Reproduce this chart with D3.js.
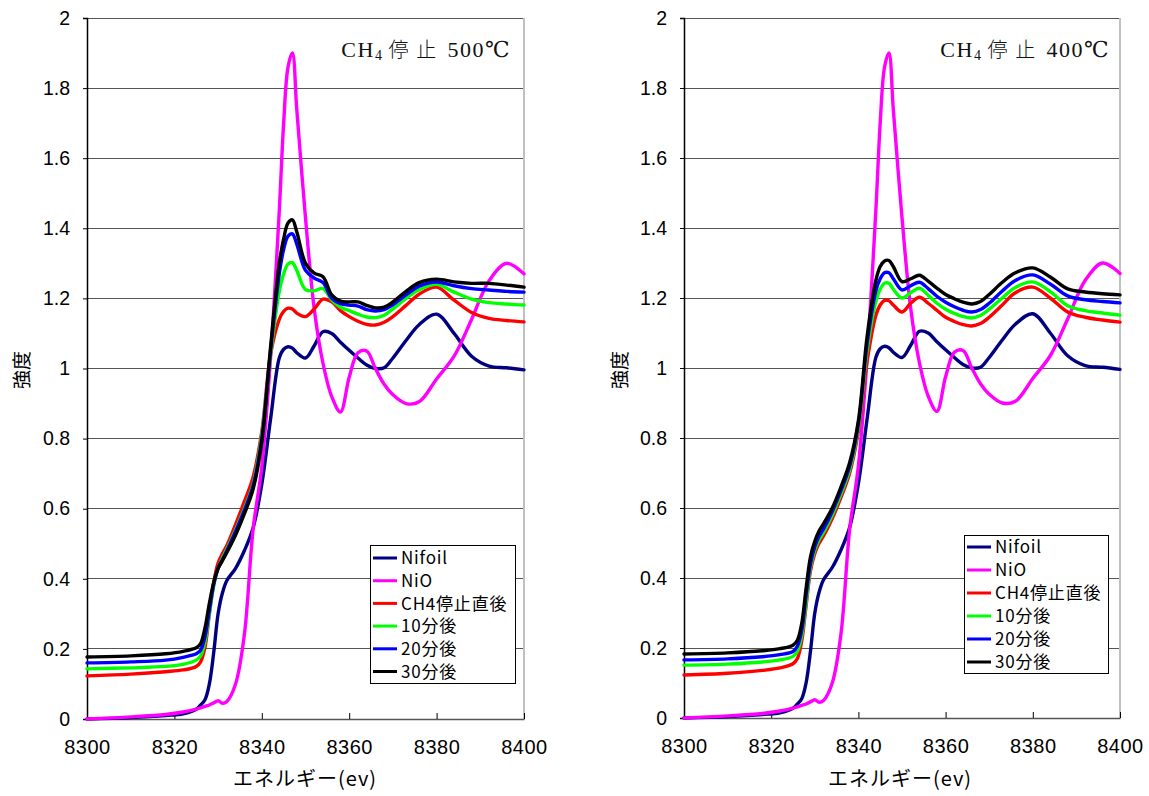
<!DOCTYPE html>
<html><head><meta charset="utf-8">
<script src="https://cdn.jsdelivr.net/npm/d3@7"></script>
<style>body{margin:0;background:#fff}svg{display:block}</style>
</head><body>
<svg id="c" width="1149" height="796"></svg>
<script>
// ---------- data ----------
const energies = [8300,8310,8318,8322,8325,8326,8327,8328,8329,8330,8331,8332,8334,8336,8338,8340,8342,8344,8345,8346,8347,8348,8350,8352,8354,8356,8358,8360,8362,8364,8366,8368,8370,8373,8376,8380,8384,8388,8392,8396,8400];

const nifoil = [0.000,0.004,0.010,0.015,0.028,0.040,0.055,0.10,0.19,0.30,0.36,0.395,0.43,0.48,0.545,0.67,0.855,1.03,1.055,1.062,1.058,1.045,1.03,1.065,1.105,1.10,1.075,1.052,1.03,1.01,1.0,1.002,1.03,1.08,1.125,1.155,1.10,1.035,1.007,1.002,0.996];
const nio    = [0.000,0.006,0.013,0.020,0.028,0.032,0.036,0.040,0.046,0.052,0.045,0.050,0.10,0.24,0.54,0.72,1.03,1.45,1.70,1.86,1.90,1.74,1.43,1.17,1.015,0.92,0.876,0.975,1.045,1.05,1.0,0.955,0.925,0.90,0.905,0.97,1.035,1.14,1.25,1.30,1.27];

// 500℃ panel
const red500   = [0.123,0.128,0.135,0.140,0.150,0.163,0.205,0.30,0.39,0.445,0.472,0.495,0.555,0.62,0.69,0.82,1.04,1.14,1.163,1.172,1.17,1.158,1.148,1.17,1.198,1.19,1.165,1.148,1.135,1.126,1.124,1.132,1.148,1.18,1.212,1.232,1.195,1.16,1.143,1.137,1.133];
const green500 = [0.143,0.146,0.150,0.156,0.168,0.18,0.22,0.30,0.38,0.43,0.46,0.485,0.54,0.60,0.67,0.81,1.04,1.22,1.27,1.298,1.302,1.28,1.225,1.222,1.228,1.195,1.175,1.165,1.155,1.147,1.145,1.152,1.17,1.20,1.225,1.240,1.218,1.198,1.188,1.184,1.181];
const blue500  = [0.160,0.163,0.168,0.176,0.186,0.196,0.235,0.31,0.385,0.43,0.455,0.48,0.535,0.595,0.665,0.80,1.05,1.27,1.34,1.378,1.384,1.355,1.28,1.258,1.245,1.20,1.185,1.181,1.178,1.168,1.164,1.168,1.182,1.21,1.235,1.247,1.236,1.228,1.224,1.22,1.218];
const black500 = [0.177,0.180,0.186,0.193,0.203,0.215,0.26,0.33,0.39,0.43,0.452,0.475,0.525,0.585,0.655,0.79,1.06,1.30,1.37,1.415,1.424,1.39,1.30,1.272,1.262,1.21,1.192,1.19,1.19,1.18,1.173,1.175,1.19,1.22,1.245,1.255,1.247,1.243,1.243,1.238,1.232];

// 400℃ panel
const red400   = [0.123,0.128,0.136,0.143,0.155,0.17,0.22,0.32,0.42,0.47,0.50,0.52,0.57,0.63,0.70,0.82,1.02,1.15,1.18,1.193,1.192,1.18,1.16,1.185,1.202,1.185,1.165,1.145,1.133,1.124,1.12,1.127,1.145,1.18,1.215,1.231,1.20,1.16,1.145,1.137,1.131];
const green400 = [0.151,0.154,0.16,0.166,0.176,0.19,0.235,0.33,0.43,0.48,0.51,0.53,0.58,0.64,0.71,0.83,1.05,1.19,1.225,1.242,1.242,1.225,1.20,1.215,1.228,1.208,1.185,1.168,1.156,1.147,1.143,1.15,1.168,1.20,1.23,1.246,1.218,1.178,1.164,1.157,1.151];
const blue400  = [0.166,0.169,0.175,0.181,0.19,0.205,0.25,0.35,0.44,0.49,0.52,0.54,0.59,0.65,0.72,0.84,1.07,1.22,1.255,1.272,1.272,1.255,1.223,1.235,1.245,1.227,1.205,1.188,1.175,1.165,1.16,1.167,1.185,1.22,1.25,1.266,1.24,1.206,1.195,1.19,1.186];
const black400 = [0.183,0.186,0.192,0.198,0.208,0.222,0.27,0.37,0.46,0.505,0.535,0.555,0.60,0.66,0.73,0.85,1.09,1.25,1.29,1.306,1.307,1.29,1.247,1.255,1.265,1.248,1.228,1.21,1.198,1.188,1.183,1.19,1.21,1.245,1.272,1.286,1.26,1.226,1.217,1.212,1.209];

const seriesNames = ["Nifoil","NiO","CH4停止直後","10分後","20分後","30分後"];
const seriesColors = ["#000080","#FF00FF","#FF0000","#00FF00","#0000FF","#000000"];
const xTicks = [8300,8320,8340,8360,8380,8400];
const xTickLabels = ["8300","8320","8340","8360","8380","8400"];
const yTicks = [0,0.2,0.4,0.6,0.8,1,1.2,1.4,1.6,1.8,2];
const yTickLabels = ["0","0.2","0.4","0.6","0.8","1","1.2","1.4","1.6","1.8","2"];
const titleTemps = ["500℃","400℃"];
const xAxisTitle = "エネルギー(ev)";
const yAxisTitle = "強度";

// ---------- layout ----------
const panels = [
  {l:87, r:524, t:18, b:719, series:[nifoil,nio,red500,green500,blue500,black500], temp:titleTemps[0],
   titleRight:511, legend:{x:370,y:545,w:145,h:138,row0:558,step:22.7,lx:373,tx:401}, yTitleX:22, xTitleX:305},
  {l:684, r:1120, t:18, b:718, series:[nifoil,nio,red400,green400,blue400,black400], temp:titleTemps[1],
   titleRight:1110, legend:{x:964,y:535,w:144,h:138,row0:547,step:23,lx:967,tx:995}, yTitleX:620, xTitleX:900}
];

const svg = d3.select("#c");
const sans = "'Liberation Sans', Arial, 'Noto Sans CJK JP', sans-serif";
const jp = "'Noto Sans CJK JP', sans-serif";

panels.forEach(p => {
  const x = d3.scaleLinear().domain([8300,8400]).range([p.l,p.r]);
  const y = d3.scaleLinear().domain([0,2]).range([p.b,p.t]);
  const g = svg.append("g");

  // gridlines
  g.append("g").selectAll("line").data(yTicks.slice(1)).join("line")
    .attr("x1",p.l).attr("x2",p.r).attr("y1",d=>y(d)).attr("y2",d=>y(d))
    .attr("stroke","#555").attr("stroke-width",1).attr("shape-rendering","crispEdges");
  // right border
  g.append("line").attr("x1",p.r).attr("x2",p.r).attr("y1",p.t).attr("y2",p.b)
    .attr("stroke","#c0c0c0").attr("stroke-width",2).attr("shape-rendering","crispEdges");

  // y axis
  const ya = d3.axisLeft(y).tickValues(yTicks).tickFormat((d,i)=>yTickLabels[i]).tickSize(4).tickPadding(13);
  const yg = g.append("g").attr("transform",`translate(${p.l},0)`).call(ya);
  yg.select(".domain").attr("stroke","#000").attr("stroke-width",1.5);
  yg.selectAll(".tick line").attr("stroke","#000");
  yg.selectAll("text").attr("font-family",sans).attr("font-size",19.5).attr("fill","#000");

  // x axis
  const xa = d3.axisBottom(x).tickValues(xTicks).tickFormat((d,i)=>xTickLabels[i]).tickSizeInner(-6).tickSizeOuter(0).tickPadding(21);
  const xg = g.append("g").attr("transform",`translate(0,${p.b})`).call(xa);
  xg.select(".domain").attr("stroke","#555").attr("stroke-width",1.5);
  xg.selectAll(".tick line").attr("stroke","#000");
  xg.selectAll("text").attr("font-family",sans).attr("font-size",20).attr("letter-spacing",0.5).attr("fill","#000");

  // lines
  const line = d3.line().x((d,i)=>x(energies[i])).y(d=>y(d)).curve(d3.curveCatmullRom.alpha(0.5));
  g.append("g").selectAll("path").data(p.series).join("path")
    .attr("d",d=>line(d)).attr("fill","none")
    .attr("stroke",(d,i)=>seriesColors[i]).attr("stroke-width",3.4)
    .attr("stroke-linejoin","round").attr("stroke-linecap","round");

  // title
  const tt = g.append("text").attr("x",p.titleRight).attr("y",57).attr("text-anchor","end")
    .attr("font-family","'Liberation Serif','DejaVu Serif','Noto Sans CJK JP',serif").attr("font-size",22)
    .attr("fill","#111").attr("letter-spacing",1.5);
  tt.append("tspan").text("CH");
  tt.append("tspan").attr("font-size",14).attr("dy",3).text("4");
  tt.append("tspan").attr("dy",-3).attr("dx",5).attr("font-family",jp).attr("font-weight",300).attr("font-size",20).attr("letter-spacing",8).text("停止");
  tt.append("tspan").attr("dx",3).text(p.temp);

  // legend
  const L = p.legend;
  g.append("rect").attr("x",L.x+0.5).attr("y",L.y+0.5).attr("width",L.w).attr("height",L.h)
    .attr("fill","#fff").attr("stroke","#000").attr("stroke-width",1);
  const items = g.append("g").selectAll("g").data(seriesNames).join("g")
    .attr("transform",(d,i)=>`translate(0,${L.row0 + i*L.step})`);
  items.append("line").attr("x1",L.lx).attr("x2",L.lx+24).attr("y1",0).attr("y2",0)
    .attr("stroke",(d,i)=>seriesColors[i]).attr("stroke-width",3);
  items.append("text").attr("x",L.tx).attr("y",0).attr("dy","0.36em")
    .attr("font-family",jp).attr("font-size",17).attr("letter-spacing",0.8).attr("font-weight",400).attr("fill","#000").text(d=>d);

  // axis titles
  g.append("text").attr("transform",`translate(${p.yTitleX},370) rotate(-90)`).attr("text-anchor","middle")
    .attr("dy","0.35em").attr("font-family",jp).attr("font-size",19).attr("font-weight",400).text(yAxisTitle);
  g.append("text").attr("x",p.xTitleX).attr("y",786).attr("text-anchor","middle")
    .attr("font-family",jp).attr("font-size",20).attr("letter-spacing",1).attr("font-weight",400).text(xAxisTitle);
});
</script>
</body></html>
